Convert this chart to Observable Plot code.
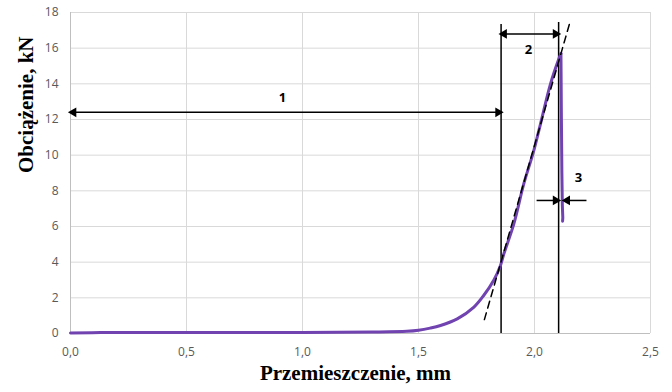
<!DOCTYPE html>
<html>
<head>
<meta charset="utf-8">
<script src="https://cdn.jsdelivr.net/npm/d3@7"></script>
<script src="https://cdn.jsdelivr.net/npm/@observablehq/plot@0.6"></script>
<style>
body { margin: 0; background: #fff; }
</style>
</head>
<body>
<div id="chart"></div>
<script>
// Load–displacement curve, rising part (mm, kN)
const curveX = [0, 0.13, 0.5, 1.0, 1.3, 1.45, 1.5, 1.55, 1.595, 1.667, 1.739, 1.781, 1.825, 1.853, 1.868, 1.911, 1.954, 1.997, 2.026, 2.069, 2.105, 2.114];
const curveY = [0.03, 0.05, 0.06, 0.06, 0.08, 0.12, 0.18, 0.3, 0.45, 0.82, 1.48, 2.13, 3.0, 3.8, 4.47, 6.15, 8.4, 10.26, 11.76, 14.0, 15.4, 15.7];
// Failure drop
const dropX = [2.114, 2.116, 2.118, 2.120, 2.122, 2.121];
const dropY = [15.7, 12.0, 9.0, 7.2, 6.5, 6.3];

// Tangent (dashed) line end points
const tangentX = [1.784, 2.155];
const tangentY = [0.78, 17.55];

// Vertical reference lines
const vLineX = [1.856, 2.104];
const vLineTop = [17.33, 17.44];

// Dimension arrows
const arrowX1 = [0, 1.856, 2.009, 2.224];
const arrowX2 = [1.856, 2.104, 2.104, 2.128];
const arrowY = [12.4, 16.8, 7.46, 7.46];
const arrowBoth = [true, true, false, false];

// Labels
const labelText = ["1", "2", "3"];
const labelX = [0.914, 1.974, 2.19];
const labelY = [13.2, 15.9, 8.75];

const xTicks = [0, 0.5, 1.0, 1.5, 2.0, 2.5];
const yTicks = [0, 2, 4, 6, 8, 10, 12, 14, 16, 18];

const curve = curveX.map((x, i) => ({x, y: curveY[i]}));
const drop = dropX.map((x, i) => ({x, y: dropY[i]}));
const tangent = tangentX.map((x, i) => ({x, y: tangentY[i]}));
const vlines = vLineX.map((x, i) => ({x, y1: 0, y2: vLineTop[i]}));
const arrows = arrowX1.map((x1, i) => ({x1, x2: arrowX2[i], y: arrowY[i], both: arrowBoth[i]}));
const labels = labelText.map((t, i) => ({t, x: labelX[i], y: labelY[i]}));

const headsRight = [];
const headsLeft = [];
for (const a of arrows) {
  const endRight = a.x2 > a.x1;
  (endRight ? headsRight : headsLeft).push({x: a.x2, y: a.y});
  if (a.both) (endRight ? headsLeft : headsRight).push({x: a.x1, y: a.y});
}

const fmt = d => d.toFixed(1).replace(".", ",");

const chart = Plot.plot({
  width: 672,
  height: 392,
  marginLeft: 70,
  marginRight: 22,
  marginTop: 12,
  marginBottom: 59,
  style: {fontFamily: "'Open Sans', sans-serif", fontSize: "12px", color: "#595959", background: "#fff"},
  x: {domain: [0, 2.5], ticks: xTicks, tickFormat: fmt, tickSize: 0, tickPadding: 14, label: null},
  y: {domain: [0, 18], ticks: yTicks, tickSize: 0, tickPadding: 12, label: null},
  marks: [
    Plot.gridX(xTicks, {stroke: "#d9d9d9", strokeOpacity: 1}),
    Plot.gridY(yTicks, {stroke: "#d9d9d9", strokeOpacity: 1}),
    Plot.ruleY([0], {stroke: "#bfbfbf"}),
    Plot.ruleX([0], {stroke: "#bfbfbf"}),
    Plot.ruleX(vlines, {x: "x", y1: "y1", y2: "y2", stroke: "#000", strokeWidth: 1.5}),
    Plot.line(curve, {x: "x", y: "y", stroke: "#7043b0", strokeWidth: 3, curve: "catmull-rom"}),
    Plot.line(drop, {x: "x", y: "y", stroke: "#7043b0", strokeWidth: 3, strokeLinecap: "round"}),
    Plot.line(tangent, {x: "x", y: "y", stroke: "#000", strokeWidth: 1.5, strokeDasharray: "7,5"}),
    Plot.link(arrows, {x1: "x1", x2: "x2", y1: "y", y2: "y", stroke: "#000", strokeWidth: 1.5}),
    Plot.dot(headsRight, {x: "x", y: "y", symbol: "triangle", rotate: 90, r: 3.6, fill: "#000", stroke: "none", dx: -3}),
    Plot.dot(headsLeft, {x: "x", y: "y", symbol: "triangle", rotate: -90, r: 3.6, fill: "#000", stroke: "none", dx: 3}),
    Plot.text(labels, {x: "x", y: "y", text: "t", fill: "#000", fontWeight: "bold", fontSize: 13, fontFamily: "'Open Sans', sans-serif"}),
    Plot.text(["Przemieszczenie, mm"], {frameAnchor: "bottom", dy: 46, dx: -5, fill: "#000", fontSize: 21, fontWeight: "bold", fontFamily: "'Liberation Serif', serif"}),
    Plot.text(["Obciążenie, kN"], {frameAnchor: "left", dx: -44, rotate: -90, fill: "#000", fontSize: 21, fontWeight: "bold", fontFamily: "'Liberation Serif', serif"})
  ]
});
document.getElementById("chart").appendChild(chart);
</script>
</body>
</html>
